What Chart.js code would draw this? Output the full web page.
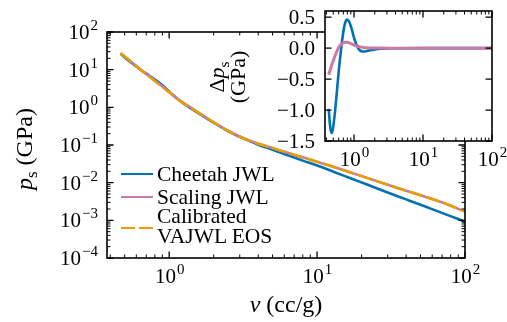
<!DOCTYPE html>
<html>
<head>
<meta charset="utf-8">
<script src="https://cdn.jsdelivr.net/npm/chart.js@4.4.0/dist/chart.umd.min.js"></script>
<style>
  html, body { margin:0; padding:0; background:#fff; }
  #wrap { position:relative; width:507px; height:322px; overflow:hidden; font-family:"Liberation Serif", serif; color:#000; }
  canvas { position:absolute; left:0; top:0; }
  .lbl { position:absolute; font-size:24px; line-height:24px; white-space:nowrap; text-align:center; }
  .rot { transform:rotate(-90deg); transform-origin:center center; }
  sub { font-size:0.7em; vertical-align:-0.3em; line-height:0; }
  .leg-line { position:absolute; left:121px; width:32px; height:0; }
  .leg-dash { position:absolute; width:14px; height:0; border-top:2.5px solid #E69F00; }
  .leg-text { position:absolute; left:157px; font-size:21.5px; line-height:21px; white-space:nowrap; }
</style>
</head>
<body>
<div id="wrap">
  <canvas id="main" width="507" height="322"></canvas>
  <canvas id="inset" width="507" height="322"></canvas>

  <div class="lbl" style="left:226px; top:292px; width:120px;"><i>v</i> (cc/g)</div>
  <div class="lbl rot" style="left:-36px; top:137px; width:120px;"><i>p</i><sub>s</sub> (GPa)</div>
  <div class="lbl rot" style="left:188px; top:55px; width:80px; height:44px; font-size:22px; line-height:21px;">&Delta;<i>p</i><sub>s</sub><br>(GPa)</div>

  <div class="leg-line" style="top:173px; border-top:2.5px solid #0072B2;"></div>
  <div class="leg-text" style="top:164px;">Cheetah JWL</div>
  <div class="leg-line" style="top:196px; border-top:2.5px solid #CC79A7;"></div>
  <div class="leg-text" style="top:187px;">Scaling JWL</div>
  <div class="leg-dash" style="left:121px; top:227px;"></div>
  <div class="leg-dash" style="left:139px; top:227px;"></div>
  <div class="leg-text" style="top:206px;">Calibrated</div>
  <div class="leg-text" style="top:226px;">VAJWL EOS</div>
</div>

<script>
// specific volume (cc/g) and pressure along the isentrope (GPa)
const vol = [0.47, 0.52, 0.58, 0.65, 0.72, 0.8, 0.9, 1.0, 1.15, 1.3, 1.5, 1.75, 2.0, 2.4, 2.8, 3.3,
             4.0, 5.0, 6.0, 8.0, 10, 13, 17, 22, 30, 40, 55, 75, 100];
const cheetahP = [26.5, 18.6, 13.4, 9.5, 7.3, 5.45, 3.85, 2.65, 1.61, 1.14, 0.79, 0.54, 0.39, 0.258, 0.187, 0.14,
                  0.102, 0.075, 0.058, 0.0385, 0.0285, 0.0193, 0.0129, 0.0088, 0.0055, 0.0036, 0.00225, 0.00142, 0.00092];
const scalingP = [27.1, 19.7, 13.9, 9.55, 7.08, 5.08, 3.56, 2.54, 1.64, 1.18, 0.825, 0.56, 0.40, 0.26, 0.19, 0.143,
                  0.108, 0.083, 0.066, 0.047, 0.036, 0.026, 0.0184, 0.0132, 0.0088, 0.0061, 0.0041, 0.0027, 0.0017];
const calibP   = [27.5, 19.8, 13.9, 9.5, 7.0, 5.0, 3.5, 2.5, 1.62, 1.17, 0.82, 0.56, 0.40, 0.26, 0.19, 0.143,
                  0.108, 0.083, 0.066, 0.047, 0.036, 0.026, 0.0184, 0.0132, 0.0088, 0.0061, 0.0041, 0.0027, 0.0017];

// difference from the calibrated EOS (GPa)
const dVol = [0.43, 0.45, 0.47, 0.49, 0.52, 0.56, 0.60, 0.65, 0.70, 0.75, 0.80, 0.85, 0.92, 1.0, 1.1, 1.2,
              1.35, 1.5, 1.7, 2.0, 2.5, 3.0, 5.0, 10, 100];
const cheetahDelta = [-0.98, -1.25, -1.37, -1.33, -1.12, -0.75, -0.38, -0.02, 0.26, 0.42, 0.46, 0.43, 0.32, 0.17, 0.04, -0.03,
                      -0.055, -0.05, -0.035, -0.02, -0.008, -0.004, -0.001, 0, 0];
const scalingDelta = [-0.43, -0.36, -0.29, -0.23, -0.15, -0.06, 0.01, 0.06, 0.085, 0.095, 0.095, 0.085, 0.07, 0.05, 0.035, 0.022,
                      0.012, 0.006, 0.003, 0.002, 0.001, 0, 0, 0, 0];

const mainXTicks = [1, 10, 100];
const mainYTicks = [1e-4, 1e-3, 1e-2, 1e-1, 1, 10, 100];
const insetXTicks = [1, 10, 100];
const insetYTicks = [0.5, 0, -0.5, -1, -1.5];
const insetYLabels = ['0.5', '0.0', '\u22120.5', '\u22121.0', '\u22121.5'];

const BLUE = '#0072B2', PINK = '#CC79A7', ORANGE = '#E69F00';
const FONT = '"Liberation Serif", serif';

const pts = (xs, ys) => xs.map((x, i) => ({x, y: ys[i]}));

function logMinor(min, max) {
  const out = [];
  for (let e = Math.floor(Math.log10(min)); e <= Math.ceil(Math.log10(max)); e++) {
    for (let m = 2; m <= 9; m++) {
      const v = m * Math.pow(10, e);
      if (v > min && v < max) out.push(v);
    }
  }
  return out;
}

function powLabel(ctx, value, x, y, align) {
  const exp = Math.round(Math.log10(value));
  const sup = exp < 0 ? '\u2212' + (-exp) : String(exp);
  ctx.font = '21px ' + FONT;
  const wb = ctx.measureText('10').width;
  ctx.font = '15px ' + FONT;
  const ws = ctx.measureText(sup).width;
  const left = align === 'center' ? x - (wb + ws) / 2 : x - wb - ws - 1;
  ctx.textAlign = 'left';
  ctx.textBaseline = 'alphabetic';
  ctx.font = '21px ' + FONT;
  ctx.fillText('10', left, y);
  ctx.font = '15px ' + FONT;
  ctx.fillText(sup, left + wb + 1, y - 9);
}

// inward ticks on all four sides + frame + tick labels
const axesPlugin = {
  id: 'axesFrame',
  beforeDatasetsDraw(chart, args, opts) {
    if (!opts.fill) return;
    const a = chart.chartArea, ctx = chart.ctx;
    ctx.save();
    ctx.fillStyle = '#fff';
    ctx.fillRect(a.left, a.top, a.right - a.left, a.bottom - a.top);
    ctx.restore();
  },
  afterDraw(chart, args, opts) {
    const {ctx, chartArea: a, scales: {x, y}} = chart;
    ctx.save();
    ctx.strokeStyle = '#000';
    ctx.fillStyle = '#000';
    const vTick = (px, len, w) => {
      ctx.lineWidth = w;
      ctx.beginPath();
      ctx.moveTo(px, a.bottom); ctx.lineTo(px, a.bottom - len);
      ctx.moveTo(px, a.top); ctx.lineTo(px, a.top + len);
      ctx.stroke();
    };
    const hTick = (py, len, w) => {
      ctx.lineWidth = w;
      ctx.beginPath();
      ctx.moveTo(a.left, py); ctx.lineTo(a.left + len, py);
      ctx.moveTo(a.right, py); ctx.lineTo(a.right - len, py);
      ctx.stroke();
    };
    opts.xTicks.forEach(v => vTick(x.getPixelForValue(v), 6.5, 1.3));
    logMinor(x.min, x.max).forEach(v => vTick(x.getPixelForValue(v), 3.5, 1));
    opts.yTicks.forEach(v => hTick(y.getPixelForValue(v), 6.5, 1.3));
    if (opts.yLog) logMinor(y.min, y.max).forEach(v => hTick(y.getPixelForValue(v), 3.5, 1));

    ctx.lineWidth = 1.6;
    ctx.strokeRect(a.left, a.top, a.right - a.left, a.bottom - a.top);

    opts.xTicks.forEach(v => powLabel(ctx, v, x.getPixelForValue(v), a.bottom + 25, 'center'));
    opts.yTicks.forEach((v, i) => {
      const py = y.getPixelForValue(v);
      if (opts.yLog) {
        powLabel(ctx, v, a.left - 9, py + 7, 'right');
      } else {
        ctx.font = '21px ' + FONT;
        ctx.textAlign = 'right';
        ctx.textBaseline = 'alphabetic';
        ctx.fillText(opts.yLabels[i], a.left - 10, py + 7);
      }
    });
    ctx.restore();
  }
};

const hiddenScale = (type, min, max) => ({type, min, max, display: false});

new Chart(document.getElementById('main'), {
  type: 'line',
  data: {
    datasets: [
      {label: 'Calibrated VAJWL EOS', data: pts(vol, calibP), borderColor: ORANGE, borderWidth: 2.6,
       borderDash: [14, 4], order: 0},
      {label: 'Scaling JWL', data: pts(vol, scalingP), borderColor: PINK, borderWidth: 2.6, order: 1},
      {label: 'Cheetah JWL', data: pts(vol, cheetahP), borderColor: BLUE, borderWidth: 2.6, order: 2}
    ]
  },
  options: {
    responsive: false,
    animation: false,
    devicePixelRatio: 1,
    layout: {padding: {left: 107, top: 32, right: 42, bottom: 64}},
    elements: {point: {radius: 0}, line: {cubicInterpolationMode: 'monotone', fill: false}},
    scales: {x: hiddenScale('logarithmic', 0.38, 100), y: hiddenScale('logarithmic', 1e-4, 100)},
    plugins: {
      legend: {display: false},
      tooltip: {enabled: false},
      axesFrame: {xTicks: mainXTicks, yTicks: mainYTicks, yLog: true, fill: false}
    }
  },
  plugins: [axesPlugin]
});

new Chart(document.getElementById('inset'), {
  type: 'line',
  data: {
    datasets: [
      {label: 'Scaling JWL', data: pts(dVol, scalingDelta), borderColor: PINK, borderWidth: 3, order: 0},
      {label: 'Cheetah JWL', data: pts(dVol, cheetahDelta), borderColor: BLUE, borderWidth: 2.6, order: 1}
    ]
  },
  options: {
    responsive: false,
    animation: false,
    devicePixelRatio: 1,
    layout: {padding: {left: 325, top: 11, right: 15, bottom: 181}},
    elements: {point: {radius: 0}, line: {cubicInterpolationMode: 'monotone', fill: false}},
    scales: {x: hiddenScale('logarithmic', 0.38, 100), y: hiddenScale('linear', -1.5, 0.6)},
    plugins: {
      legend: {display: false},
      tooltip: {enabled: false},
      axesFrame: {xTicks: insetXTicks, yTicks: insetYTicks, yLabels: insetYLabels, yLog: false, fill: true}
    }
  },
  plugins: [axesPlugin]
});
</script>
</body>
</html>
